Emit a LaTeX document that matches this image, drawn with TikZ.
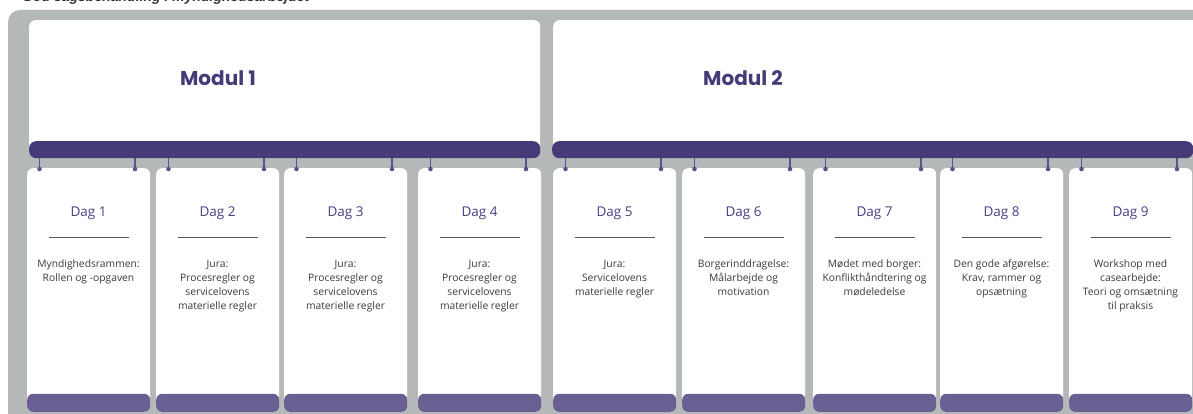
\documentclass[tikz,border=0pt]{standalone}
\usepackage{fontspec}
\setmainfont{Open Sans}
\newfontfamily\modfont{Poppins}
\newfontfamily\headfont{Liberation Sans}
\definecolor{bggray}{HTML}{B5B8B8}
\definecolor{barpurple}{HTML}{463A79}
\definecolor{footpurple}{HTML}{6A5F92}
\definecolor{pinpurple}{HTML}{5C5090}
\definecolor{dagpurple}{HTML}{4B3F82}
\definecolor{bodytext}{HTML}{3A3A3A}

\begin{document}
\begin{tikzpicture}[
    x=1pt, y=-1pt,
    modbox/.style={rectangle, fill=white, rounded corners=6pt, inner sep=0pt, anchor=north west},
    topbar/.style={rectangle, fill=barpurple, rounded corners=7pt, inner sep=0pt, anchor=north west, minimum height=17pt},
    modtitle/.style={font=\modfont\bfseries\fontsize{20}{24}\selectfont, text=barpurple},
    daycard/.style={rectangle, fill=white, rounded corners=6pt, inner sep=0pt, anchor=north west, minimum width=123pt, minimum height=238pt},
    footbar/.style={rectangle, fill=footpurple, rounded corners=6pt, inner sep=0pt, anchor=south west, minimum width=123pt, minimum height=18pt},
    daglabel/.style={font=\fontsize{13.5}{16}\selectfont, text=dagpurple, inner sep=0pt},
    dagrule/.style={draw=black!65, line width=0.9pt},
    dagtext/.style={font=\fontsize{10.3}{14}\selectfont, text=bodytext, align=center, inner sep=0pt, anchor=north},
    pin/.style={draw=pinpurple, line width=1.8pt},
    pindot/.style={fill=pinpurple}
]

% frame and cut-off heading
\useasboundingbox (0,0) rectangle (1193,414);
\fill[bggray, rounded corners=12pt] (8,10) rectangle (1215,430);
\node[font=\headfont\bfseries\itshape\fontsize{14}{16}\selectfont, text=black!80, anchor=base west, inner sep=0pt] (heading) at (22,2) {God sagsbehandling i myndighedsarbejdet};

% the two modules
\node[modbox, minimum width=511pt, minimum height=130pt] (mod1) at (29,20) {};
\node[modbox, minimum width=660pt, minimum height=130pt] (mod2) at (553,20) {};
\node[modtitle] (title1) at (218,78) {Modul 1};
\node[modtitle] (title2) at (743,78) {Modul 2};
\node[topbar, minimum width=511pt] (bar1) at (29,141) {};
\node[topbar, minimum width=641pt] (bar2) at (552,141) {};

% day cards
\foreach \x/\i/\m/\txt in {
    27/1/1/{Myndighedsrammen:\\Rollen og -opgaven},
    156/2/1/{Jura:\\Procesregler og\\servicelovens\\materielle regler},
    284/3/1/{Jura:\\Procesregler og\\servicelovens\\materielle regler},
    418/4/1/{Jura:\\Procesregler og\\servicelovens\\materielle regler},
    553/5/2/{Jura:\\Servicelovens\\materielle regler},
    682/6/2/{Borgerinddragelse:\\Målarbejde og\\motivation},
    813/7/2/{Mødet med borger:\\Konflikthåndtering og\\mødeledelse},
    940/8/2/{Den gode afgørelse:\\Krav, rammer og\\opsætning},
    1069/9/2/{Workshop med\\casearbejde:\\Teori og omsætning\\til praksis}} {
  \node[daycard] (day\i) at (\x,168) {};
  \node[footbar] (foot\i) at (\x,412) {};
  \node[daglabel] (dag\i) at ({\x+61.5},213) {Dag \i};
  \draw[dagrule] ({\x+21.5},237) -- ({\x+101.5},237);
  \node[dagtext] (txt\i) at ({\x+61.5},259.5) {\txt};
  % pins hanging from the module bar
  \coordinate (pinL\i) at ({\x+12.5},169);
  \coordinate (pinR\i) at ({\x+108},169);
  \draw[pin] (pinL\i |- bar\m.south) -- (pinL\i);
  \draw[pin] (pinR\i |- bar\m.south) -- (pinR\i);
  \fill[pindot] (pinL\i) circle (2.3pt);
  \fill[pindot] (pinR\i) circle (2.3pt);
}

\end{tikzpicture}
\end{document}
